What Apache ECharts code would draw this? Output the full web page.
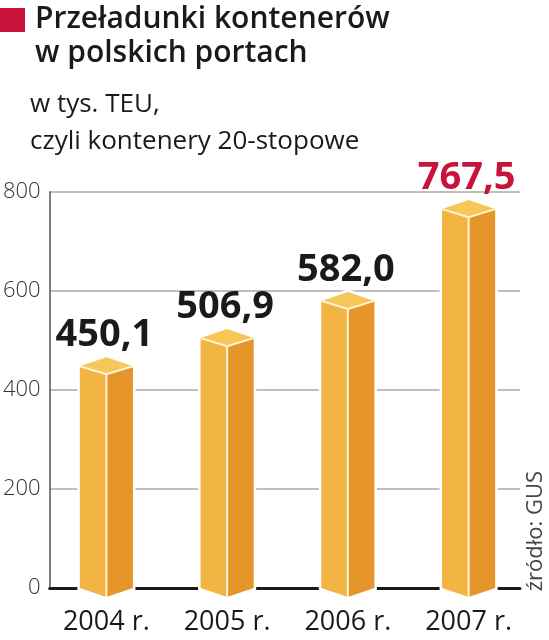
<!DOCTYPE html>
<html>
<head>
<meta charset="utf-8">
<script src="https://cdn.jsdelivr.net/npm/echarts@6/dist/echarts.min.js"></script>
<style>
  html, body { margin: 0; padding: 0; background: #fff; }
  #chart { width: 549px; height: 640px; }
</style>
</head>
<body>
<div id="chart"></div>
<script>
// ---- data ----
const categories = ['2004 r.', '2005 r.', '2006 r.', '2007 r.'];
const values = [450.1, 506.9, 582.0, 767.5];
const yTickValues = [0, 200, 400, 600, 800];
const titleLines = ['Przeładunki kontenerów', 'w polskich portach'];
const subtitleLines = ['w tys. TEU,', 'czyli kontenery 20-stopowe'];
const sourceText = 'źródło: GUS';

// ---- styles ----
const FONT = '"Open Sans", "Liberation Sans", sans-serif';
const RED = '#C8133B';
const FRONT = '#F2B443';
const SIDE = '#E6952A';
const TOP = '#F7C659';
const EDGE = '#FFF4D6';

function fmt(v) { return v.toFixed(1).replace('.', ','); }

function renderItem(params, api) {
  const idx = api.value(0);
  const v = api.value(1);
  const p = api.coord([idx, v]);
  const b = api.coord([idx, 0]);
  const half = api.size([1, 0])[0] * 0.44 / 2;
  const cx = p[0], ty = p[1], by = b[1];
  const up = 8, dn = 9, sd = 1;
  const isLast = params.dataIndex === values.length - 1;
  return {
    type: 'group',
    children: [
      { type: 'polygon', shape: { points: [[cx - half, ty + sd], [cx, ty - up], [cx + half, ty + sd], [cx + half, by], [cx, by + dn], [cx - half, by]] },
        style: { fill: '#fff', stroke: '#fff', lineWidth: 5 } },
      { type: 'polygon', shape: { points: [[cx - half, ty + sd], [cx, ty + dn], [cx, by + dn], [cx - half, by]] },
        style: { fill: FRONT } },
      { type: 'polygon', shape: { points: [[cx, ty + dn], [cx + half, ty + sd], [cx + half, by], [cx, by + dn]] },
        style: { fill: SIDE } },
      { type: 'polygon', shape: { points: [[cx, ty - up], [cx + half, ty + sd], [cx, ty + dn], [cx - half, ty + sd]] },
        style: { fill: TOP } },
      { type: 'polyline', shape: { points: [[cx - half, ty + sd], [cx, ty + dn], [cx + half, ty + sd]] },
        style: { fill: null, stroke: EDGE, lineWidth: 2 } },
      { type: 'line', shape: { x1: cx, y1: ty + dn, x2: cx, y2: by + dn },
        style: { stroke: EDGE, lineWidth: 2 } },
      { type: 'text', style: { text: fmt(v), x: cx - 2, y: ty - up - 3, align: 'center', verticalAlign: 'bottom',
        fontFamily: FONT, fontWeight: 'bold', fontSize: 38, fill: isLast ? RED : '#1a1a1a' } }
    ]
  };
}

const chart = echarts.init(document.getElementById('chart'), null, { renderer: 'canvas' });
chart.setOption({
  animation: false,
  backgroundColor: '#fff',
  title: [
    { text: titleLines.join('\n'), left: 35, top: 2, padding: 0,
      textStyle: { fontFamily: FONT, fontWeight: 600, fontSize: 30, lineHeight: 34, color: '#1a1a1a' } },
    { text: subtitleLines.join('\n'), left: 30, top: 86, padding: 0,
      textStyle: { fontFamily: FONT, fontWeight: 'normal', fontSize: 26, lineHeight: 37, color: '#1a1a1a' } }
  ],
  graphic: [
    { type: 'rect', shape: { x: 0, y: 8, width: 25, height: 24 }, style: { fill: RED } },
    { type: 'text', x: 536, y: 531, rotation: Math.PI / 2,
      style: { text: sourceText, align: 'center', verticalAlign: 'middle', fontFamily: FONT, fontSize: 22, fill: '#444' } }
  ],
  grid: [
    { left: 47, right: 29, top: 192, bottom: 52 },
    { left: 46, right: 20, top: 192, bottom: 52 }
  ],
  xAxis: [
    { type: 'category', gridIndex: 0, data: categories,
      axisLine: { lineStyle: { color: '#1a1a1a', width: 3 } },
      axisTick: { show: false }, axisLabel: { show: false }, splitLine: { show: false } },
    { type: 'category', gridIndex: 1, data: categories,
      axisLine: { show: false }, axisTick: { show: false },
      axisLabel: { fontFamily: FONT, fontSize: 27, color: '#1a1a1a', margin: 21 } }
  ],
  yAxis: [
    { type: 'value', gridIndex: 0, min: yTickValues[0], max: yTickValues[yTickValues.length - 1], interval: 200,
      axisLine: { show: true, lineStyle: { color: '#555', width: 1.5 } },
      axisTick: { show: false },
      axisLabel: { fontFamily: FONT, fontSize: 22, fontWeight: 300, color: '#333', margin: 9 },
      splitLine: { lineStyle: { color: '#aaa', width: 1.5 } } },
    { type: 'value', gridIndex: 1, min: yTickValues[0], max: yTickValues[yTickValues.length - 1], interval: 200,
      show: false, splitLine: { show: false } }
  ],
  series: [{
    type: 'custom',
    xAxisIndex: 1, yAxisIndex: 1,
    clip: false,
    renderItem: renderItem,
    encode: { x: 0, y: 1 },
    data: values.map((v, i) => [i, v]),
    z: 5
  }]
});
</script>
</body>
</html>
